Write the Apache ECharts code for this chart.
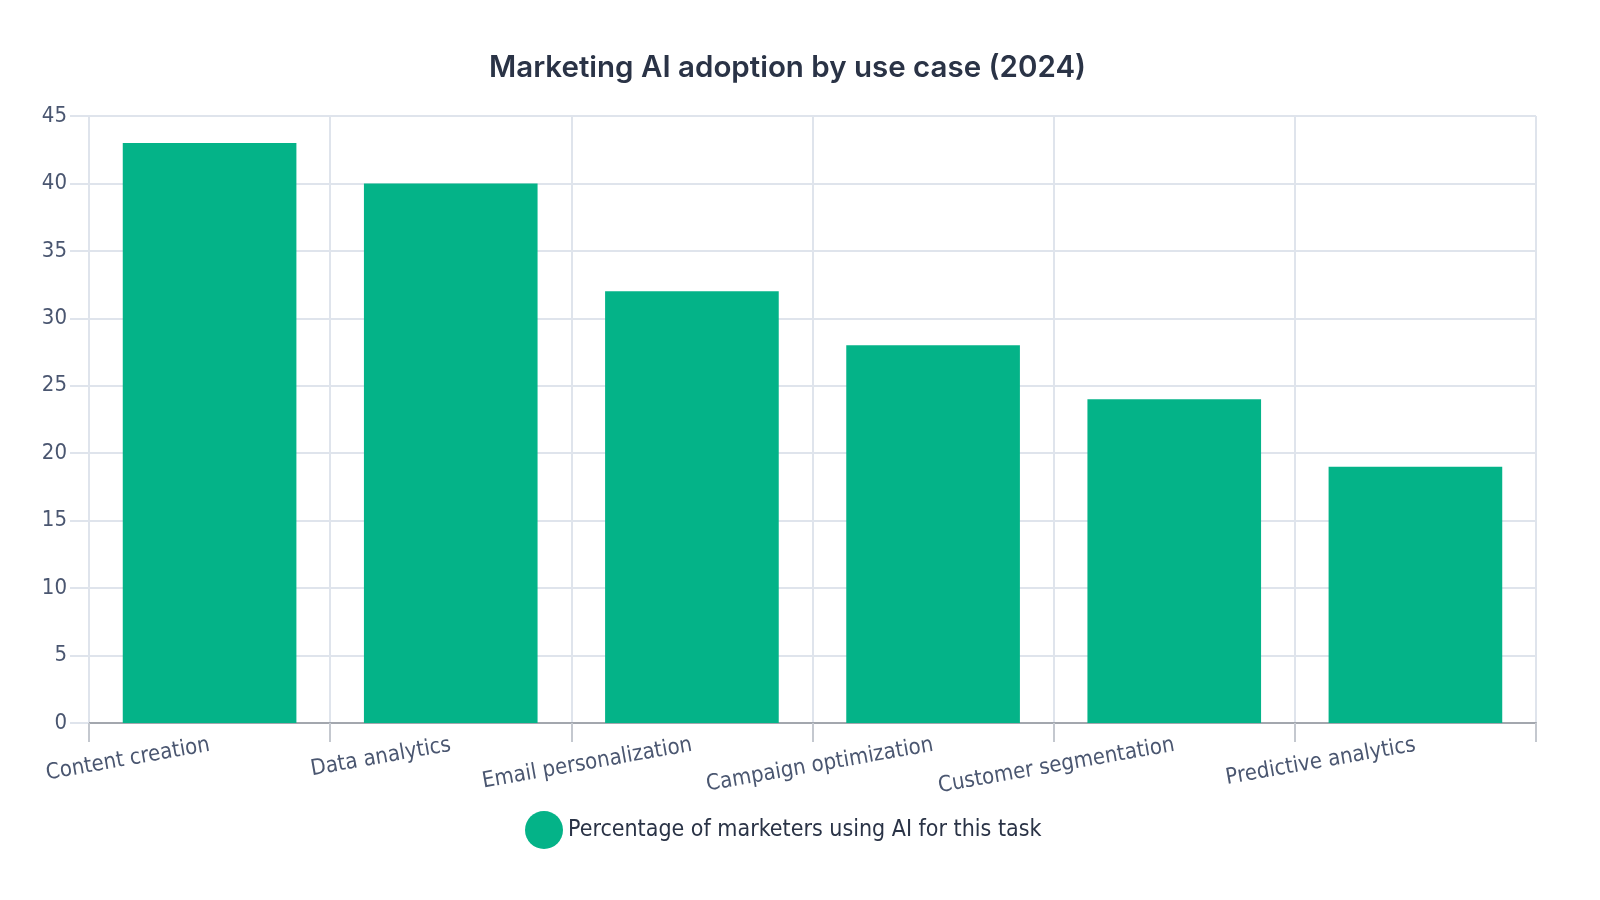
<!DOCTYPE html>
<html>
<head>
<meta charset="utf-8">
<script src="https://cdn.jsdelivr.net/npm/echarts@6/dist/echarts.min.js"></script>
<style>
html, body { margin: 0; padding: 0; background: #fff; }
#chart { width: 1600px; height: 900px; }
</style>
</head>
<body>
<div id="chart"></div>
<script>
var useCases = ['Content creation', 'Data analytics', 'Email personalization', 'Campaign optimization', 'Customer segmentation', 'Predictive analytics'];
var adoptionPct = [43, 40, 32, 28, 24, 19];
var seriesName = 'Percentage of marketers using AI for this task';

var chart = echarts.init(document.getElementById('chart'));

var option = {
    backgroundColor: '#ffffff',
    textStyle: { fontFamily: 'Liberation Sans Narrow, DejaVu Sans Condensed, sans-serif' },
    title: {
        text: 'Marketing AI adoption by use case (2024)',
        left: 484,
        top: 48,
        textStyle: { fontFamily: 'Inter, sans-serif', fontSize: 29.5, fontWeight: 600, color: '#2a3346' }
    },
    legend: {
        bottom: 46,
        left: 520,
        icon: 'circle',
        itemWidth: 38,
        itemHeight: 38,
        itemGap: 6,
        textStyle: { fontSize: 23, color: '#2a3346' },
        data: [seriesName]
    },
    grid: { left: 89, right: 64, top: 116, bottom: 177 },
    xAxis: {
        type: 'category',
        data: useCases,
        axisLine: { lineStyle: { color: '#a3a7ae', width: 2 } },
        axisTick: { show: true, length: 19, lineStyle: { color: '#c4c8cf', width: 2 } },
        splitLine: { show: true, lineStyle: { color: '#dfe4ec', width: 2 } },
        axisLabel: { rotate: 10, fontSize: 22, color: '#4a5670', margin: 22 }
    },
    yAxis: {
        type: 'value',
        min: 0,
        max: 45,
        interval: 5,
        axisLine: { show: false },
        axisTick: { show: true, length: 19, lineStyle: { color: '#dfe4ec', width: 2 } },
        splitLine: { lineStyle: { color: '#dfe4ec', width: 2 } },
        axisLabel: { fontSize: 22, color: '#4a5670', margin: 22 }
    },
    series: [{
        name: seriesName,
        type: 'bar',
        data: adoptionPct,
        barCategoryGap: '28%',
        itemStyle: { color: '#04b388' }
    }]
};

chart.setOption(option);
</script>
</body>
</html>
